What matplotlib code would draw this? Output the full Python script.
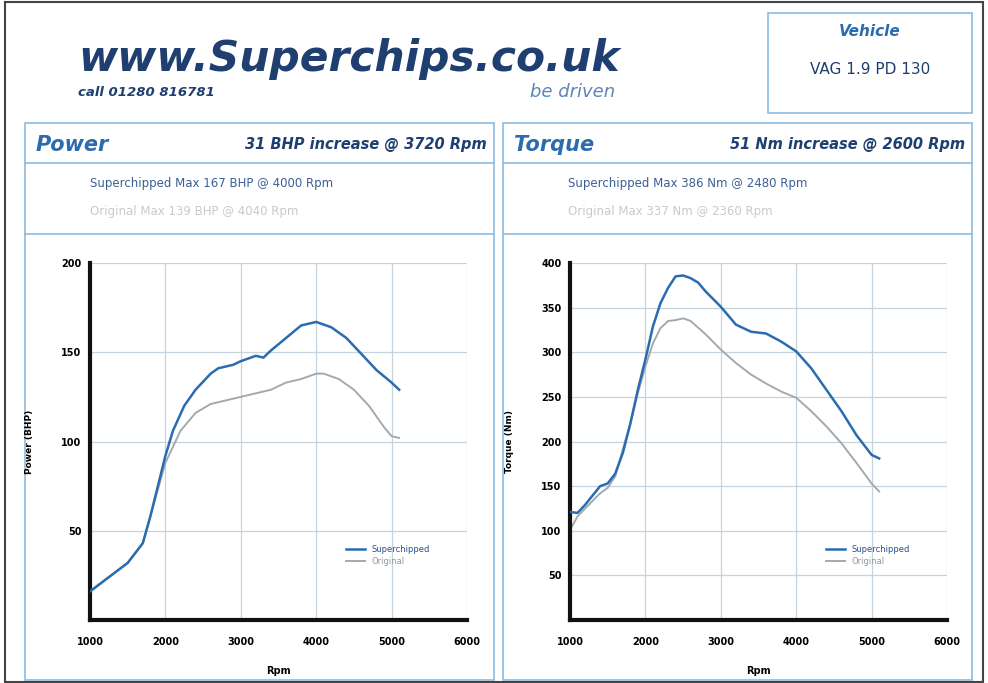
import matplotlib.pyplot as plt
from matplotlib.patches import Rectangle

# ---- data ----
rpm_power = [1000, 1250, 1500, 1700, 1800, 2000, 2100, 2250, 2400, 2600, 2700, 2900, 3000,
             3200, 3300, 3400, 3600, 3800, 4000, 4200, 4400, 4600, 4800, 5000, 5100]
power_super = [16, 24, 32, 43, 58, 92, 106, 120, 129, 138, 141, 143, 145,
               148, 147, 151, 158, 165, 167, 164, 158, 149, 140, 133, 129]
rpm_power_orig = [1000, 1250, 1500, 1700, 1800, 2000, 2100, 2200, 2400, 2600, 2800, 3000, 3200,
                  3400, 3600, 3800, 4000, 4100, 4300, 4500, 4700, 4900, 5000, 5100]
power_orig = [16, 24, 32, 43, 58, 88, 97, 106, 116, 121, 123, 125, 127,
              129, 133, 135, 138, 138, 135, 129, 120, 108, 103, 102]

rpm_torque = [1000, 1100, 1200, 1400, 1500, 1600, 1700, 1800, 1900, 2000, 2100, 2200, 2300,
              2400, 2500, 2600, 2700, 2800, 3000, 3200, 3400, 3600, 3800, 4000, 4200,
              4400, 4600, 4800, 5000, 5100]
torque_super = [121, 120, 129, 150, 153, 164, 187, 220, 258, 292, 329, 355, 372,
                385, 386, 383, 378, 368, 351, 331, 323, 321, 312, 301, 282,
                258, 234, 207, 185, 181]
rpm_torque_orig = [1000, 1100, 1200, 1400, 1500, 1600, 1700, 1800, 1900, 2000, 2100, 2200, 2300,
                   2400, 2500, 2600, 2800, 3000, 3200, 3400, 3600, 3800, 4000, 4200,
                   4400, 4600, 4800, 5000, 5100]
torque_orig = [101, 116, 125, 142, 148, 161, 191, 220, 254, 284, 310, 327, 335,
               336, 338, 335, 320, 303, 288, 275, 265, 256, 249, 234,
               217, 198, 176, 153, 144]

x_ticks = [1000, 2000, 3000, 4000, 5000, 6000]
power_ticks = [50, 100, 150, 200]
torque_ticks = [50, 100, 150, 200, 250, 300, 350, 400]

BLUE = "#2b6cb0"
DARK = "#1e3f6f"
GREY = "#a3aaae"
BORDER = "#8cbbe0"
GRID = "#c5d3df"
NARROW = ["Liberation Sans Narrow", "DejaVu Sans"]

W, H = 988, 683
fig = plt.figure(figsize=(W / 100, H / 100), dpi=100)

# background canvas in pixel units for the sheet decoration
bg = fig.add_axes([0, 0, 1, 1])
bg.set_xlim(0, W)
bg.set_ylim(H, 0)
bg.axis("off")

bg.add_patch(Rectangle((5, 2), 978, 680, fill=False, ec="#444444", lw=1.5))
bg.add_patch(Rectangle((768, 13), 204, 100, fill=False, ec=BORDER, lw=1.2))
bg.text(870, 32, "Vehicle", color=BLUE, fontsize=11, fontweight="bold", style="italic",
        ha="center", va="center")
bg.text(870, 70, "VAG 1.9 PD 130", color=DARK, fontsize=11, ha="center", va="center",
        family=NARROW)

bg.text(78, 71, "www.Superchips.co.uk", color=DARK, fontsize=30.5, fontweight="heavy",
        style="italic", ha="left", va="baseline")
bg.text(78, 96, "call 01280 816781", color=DARK, fontsize=9.5, fontweight="bold",
        style="italic", ha="left", va="baseline")
bg.text(615, 97, "be driven", color="#5c86b8", fontsize=13, style="italic",
        ha="right", va="baseline", fontweight="light")

panels = [
    (25, "Power", "31 BHP increase @ 3720 Rpm",
     "Superchipped Max 167 BHP @ 4000 Rpm", "Original Max 139 BHP @ 4040 Rpm"),
    (503, "Torque", "51 Nm increase @ 2600 Rpm",
     "Superchipped Max 386 Nm @ 2480 Rpm", "Original Max 337 Nm @ 2360 Rpm"),
]
for x0, title, gain, line1, line2 in panels:
    bg.add_patch(Rectangle((x0, 123), 469, 557, fill=False, ec=BORDER, lw=1.2))
    bg.plot([x0, x0 + 469], [163, 163], color=BORDER, lw=1.2)
    bg.plot([x0, x0 + 469], [234, 234], color=BORDER, lw=1.2)
    bg.text(x0 + 11, 145, title, color=BLUE, fontsize=15, fontweight="bold",
            style="italic", ha="left", va="center")
    bg.text(x0 + 462, 145, gain, color=DARK, fontsize=10.5, fontweight="bold",
            style="italic", ha="right", va="center")
    bg.text(x0 + 65, 184, line1, color="#3a5f95", fontsize=8.5, ha="left", va="center",
            family=NARROW)
    bg.text(x0 + 65, 212, line2, color="#c4cbd0", fontsize=8.5, ha="left", va="center",
            family=NARROW)


def draw_chart(left_px, xs, ys, xo, yo, ymax, yticks, ylabel):
    ax = fig.add_axes([left_px / W, (H - 620) / H, 377 / W, 357 / H])
    ax.plot(xs, ys, color=BLUE, lw=1.8, label="Superchipped", zorder=3)
    ax.plot(xo, yo, color=GREY, lw=1.4, label="Original", zorder=2)
    ax.set_xlim(1000, 6000)
    ax.set_ylim(0, ymax)
    ax.set_xticks(x_ticks)
    ax.set_yticks(yticks)
    ax.grid(True, color=GRID, lw=0.9)
    ax.set_axisbelow(True)
    for s in ["top", "right"]:
        ax.spines[s].set_visible(False)
    for s in ["left", "bottom"]:
        ax.spines[s].set_linewidth(3)
        ax.spines[s].set_color("#111111")
    ax.tick_params(length=0, pad=12, labelsize=7)
    for lab in ax.get_xticklabels() + ax.get_yticklabels():
        lab.set_family(NARROW)
        lab.set_fontweight("bold")
    ax.tick_params(axis="y", pad=6)
    ax.set_xlabel("Rpm", fontsize=7, fontweight="bold", labelpad=14, family=NARROW)
    ax.set_ylabel(ylabel, fontsize=6.5, fontweight="bold", labelpad=20, family=NARROW)
    leg = ax.legend(loc="upper left", bbox_to_anchor=(0.66, 0.23), frameon=False,
                    handlelength=2.2, labelspacing=0.3,
                    prop={"family": NARROW, "size": 6})
    leg.get_texts()[0].set_color("#2b4f8a")
    leg.get_texts()[1].set_color("#8f999e")
    return ax


draw_chart(90, rpm_power, power_super, rpm_power_orig, power_orig, 200, power_ticks, "Power (BHP)")
draw_chart(570, rpm_torque, torque_super, rpm_torque_orig, torque_orig, 400, torque_ticks, "Torque (Nm)")

fig.savefig("out.png", dpi=100)
